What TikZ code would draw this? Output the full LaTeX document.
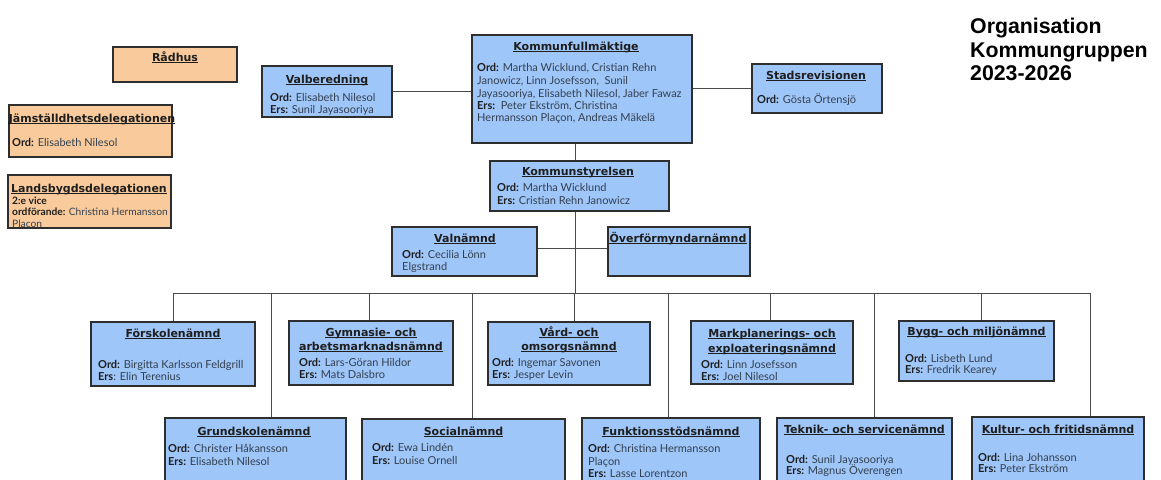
\documentclass[tikz,border=0pt]{standalone}
\usepackage{fontspec}
\usetikzlibrary{backgrounds}
\setmainfont{Lato}
\newfontfamily\hdfont{DejaVu Sans}
\newfontfamily\ttlfont{Liberation Sans}
\definecolor{boxblue}{HTML}{9FC6F8}
\definecolor{boxorange}{HTML}{F9CB9C}
\definecolor{edgecol}{HTML}{2E2E2E}
\definecolor{wirecol}{HTML}{4A4A4A}
\definecolor{bodytxt}{HTML}{334050}
\definecolor{hdtxt}{HTML}{1E1E1E}
\tikzset{
  org/.style={draw=edgecol, line width=1.1pt, inner sep=0pt, outer sep=0pt},
  hd/.style={font=\hdfont\bfseries\fontsize{11}{12}\selectfont, text=hdtxt, inner sep=0pt, anchor=base},
  tx/.style={font=\fontsize{11}{13}\selectfont, text=bodytxt, inner sep=0pt, anchor=base west},
  txs/.style={tx, font=\fontsize{10.2}{12}\selectfont},
  ttl/.style={font=\ttlfont\bfseries\fontsize{21.3}{23}\selectfont, text=black, inner sep=0pt, anchor=base west},
  wire/.style={draw=wirecol, line width=0.9pt},
  ulin/.style={draw=hdtxt, line width=0.85pt},
}
\newcommand\orgbox[6]{\node[org, fill=#6, minimum width={(#4-#2)*1pt}, minimum height={(#5-#3)*1pt}] (#1) at ({(#2+#4)/2},{(#3+#5)/2}) {};}
\newcommand\ohd[4]{\node[hd] (#1) at (#2,#3) {#4};
  \draw[ulin] ([yshift=-1.9pt]#1.base west) -- ([yshift=-1.9pt]#1.base east);}
\newcommand\otx[4]{\node[tx] (#1) at (#2,#3) {#4};}
\newcommand\lbl[1]{\textbf{\color{hdtxt}#1}}
\begin{document}
\begin{tikzpicture}[x=1pt,y=-1pt]
\path[clip] (0,0) rectangle (1161,479);

% ---------- connector coordinates
\coordinate (spx) at (575,293);
\coordinate (vo) at (575,248);
\coordinate (b1) at (173,293);
\coordinate (b2) at (271,293);
\coordinate (b3) at (369,293);
\coordinate (b4) at (472,293);
\coordinate (b5) at (574,293);
\coordinate (b6) at (668,293);
\coordinate (b7) at (770,293);
\coordinate (b8) at (874,293);
\coordinate (b9) at (981,293);
\coordinate (b10) at (1090,293);

% ---------- boxes
\orgbox{radhus}{113}{47}{237}{82}{boxorange}
\orgbox{jams}{9}{105}{172}{157}{boxorange}
\orgbox{lands}{8}{175}{171}{228}{boxorange}
\orgbox{valb}{262}{66}{392}{117}{boxblue}
\orgbox{kf}{472}{35}{692}{143}{boxblue}
\orgbox{stad}{752}{64}{882}{113}{boxblue}
\orgbox{ks}{490}{161}{669}{211}{boxblue}
\orgbox{valn}{392}{227}{537}{276}{boxblue}
\orgbox{over}{608}{227}{750}{276}{boxblue}
\orgbox{forsk}{91}{322}{255}{386}{boxblue}
\orgbox{gymn}{289}{321}{453}{385}{boxblue}
\orgbox{vard}{488}{322}{650}{385}{boxblue}
\orgbox{mark}{691}{321}{853}{384}{boxblue}
\orgbox{bygg}{899}{321}{1054}{381}{boxblue}
\orgbox{grund}{165}{418}{346}{495}{boxblue}
\orgbox{soc}{362}{419}{565}{495}{boxblue}
\orgbox{funk}{582}{418}{760}{495}{boxblue}
\orgbox{tekn}{777}{418}{952}{495}{boxblue}
\orgbox{kult}{972}{417}{1144}{495}{boxblue}

% ---------- connectors (behind boxes)
\begin{scope}[on background layer]
\draw[wire] (valb.east) -- (kf.west |- valb.east);
\draw[wire] (kf.east |- stad.west) -- (stad.west);
\draw[wire] (spx |- kf.south) -- (spx);
\draw[wire] (valn.east |- vo) -- (over.west |- vo);
\draw[wire] (b1) -- (b10);
\draw[wire] (b1) -- (b1 |- forsk.north);
\draw[wire] (b2) -- (b2 |- grund.north);
\draw[wire] (b3) -- (b3 |- gymn.north);
\draw[wire] (b4) -- (b4 |- soc.north);
\draw[wire] (b5) -- (b5 |- vard.north);
\draw[wire] (b6) -- (b6 |- funk.north);
\draw[wire] (b7) -- (b7 |- mark.north);
\draw[wire] (b8) -- (b8 |- tekn.north);
\draw[wire] (b9) -- (b9 |- bygg.north);
\draw[wire] (b10) -- (b10 |- kult.north);
\end{scope}

% ---------- texts
\ohd{hradhus}{175}{61}{Rådhus}

\ohd{hjams}{92}{122}{Jämställdhetsdelegationen}
\otx{tjams1}{12}{146.5}{\lbl{Ord:} Elisabeth Nilesol}

\ohd{hlands}{89}{192}{Landsbygdsdelegationen}
\begin{scope}
\clip ([xshift=0.6pt,yshift=-0.6pt]lands.north west) rectangle ([xshift=-0.6pt,yshift=0.6pt]lands.south east);
\node[txs] (tlands1) at (12,204.5) {\lbl{2:e vice}};
\node[txs] (tlands2) at (12,215.5) {\lbl{ordförande:} Christina Hermansson};
\node[txs] (tlands3) at (12,227.5) {Plaçon};
\end{scope}

\ohd{hvalb}{327}{83}{Valberedning}
\otx{tvalb1}{270}{101.5}{\lbl{Ord:} Elisabeth Nilesol}
\otx{tvalb2}{270}{113.5}{\lbl{Ers:} Sunil Jayasooriya}

\ohd{hkf}{576}{50}{Kommunfullmäktige}
\otx{tkf1}{477}{71}{\lbl{Ord:} Martha Wicklund, Cristian Rehn}
\otx{tkf2}{477}{84}{Janowicz, Linn Josefsson,\ \ Sunil}
\otx{tkf3}{477}{97}{Jayasooriya, Elisabeth Nilesol, Jaber Fawaz}
\otx{tkf4}{477}{109.5}{\lbl{Ers:}\ \ Peter Ekström, Christina}
\otx{tkf5}{477}{121}{Hermansson Plaçon, Andreas Mäkelä}

\ohd{hstad}{816}{79}{Stadsrevisionen}
\otx{tstad1}{757}{103.5}{\lbl{Ord:} Gösta Örtensjö}

\ohd{hks}{578}{175}{Kommunstyrelsen}
\otx{tks1}{497}{191.5}{\lbl{Ord:} Martha Wicklund}
\otx{tks2}{497}{204}{\lbl{Ers:} Cristian Rehn Janowicz}

\ohd{hvaln}{465}{242}{Valnämnd}
\otx{tvaln1}{402}{258.5}{\lbl{Ord:} Cecilia Lönn}
\otx{tvaln2}{402}{270.5}{Elgstrand}

\ohd{hover}{678}{242}{Överförmyndarnämnd}

\ohd{hforsk}{173}{337}{Förskolenämnd}
\otx{tforsk1}{98}{368.5}{\lbl{Ord:} Birgitta Karlsson Feldgrill}
\otx{tforsk2}{98}{380.5}{\lbl{Ers}: Elin Terenius}

\ohd{hgymn1}{371}{336}{Gymnasie- och}
\ohd{hgymn2}{371}{350}{arbetsmarknadsnämnd}
\otx{tgymn1}{299}{366.5}{\lbl{Ord:} Lars-Göran Hildor}
\otx{tgymn2}{299}{378.5}{\lbl{Ers:} Mats Dalsbro}

\ohd{hvard1}{569}{336}{Vård- och}
\ohd{hvard2}{569}{350}{omsorgsnämnd}
\otx{tvard1}{492}{366.5}{\lbl{Ord:} Ingemar Savonen}
\otx{tvard2}{492}{378.5}{\lbl{Ers:} Jesper Levin}

\ohd{hmark1}{772}{337}{Markplanerings- och}
\ohd{hmark2}{772}{352}{exploateringsnämnd}
\otx{tmark1}{701}{368.5}{\lbl{Ord:} Linn Josefsson}
\otx{tmark2}{701}{380.5}{\lbl{Ers:} Joel Nilesol}

\ohd{hbygg}{976.5}{335}{Bygg- och miljönämnd}
\otx{tbygg1}{905}{362.5}{\lbl{Ord:} Lisbeth Lund}
\otx{tbygg2}{905}{373.5}{\lbl{Ers:} Fredrik Kearey}

\ohd{hgrund}{254}{435}{Grundskolenämnd}
\otx{tgrund1}{168}{452.5}{\lbl{Ord:} Christer Håkansson}
\otx{tgrund2}{168}{465.5}{\lbl{Ers:} Elisabeth Nilesol}

\ohd{hsoc}{463.5}{435}{Socialnämnd}
\otx{tsoc1}{372}{451.5}{\lbl{Ord:} Ewa Lindén}
\otx{tsoc2}{372}{464.5}{\lbl{Ers:} Louise Ornell}

\ohd{hfunk}{671}{435}{Funktionsstödsnämnd}
\otx{tfunk1}{588}{452.5}{\lbl{Ord:} Christina Hermansson}
\otx{tfunk2}{588}{465.5}{Plaçon}
\otx{tfunk3}{588}{477.5}{\lbl{Ers:} Lasse Lorentzon}

\ohd{htekn}{864.5}{433}{Teknik- och servicenämnd}
\otx{ttekn1}{786}{463.5}{\lbl{Ord:} Sunil Jayasooriya}
\otx{ttekn2}{786}{474.5}{\lbl{Ers:} Magnus Överengen}

\ohd{hkult}{1058}{433}{Kultur- och fritidsnämnd}
\otx{tkult1}{978}{461.5}{\lbl{Ord:} Lina Johansson}
\otx{tkult2}{978}{472.5}{\lbl{Ers:} Peter Ekström}

% ---------- title
\node[ttl] (ttl1) at (970,33) {Organisation};
\node[ttl] (ttl2) at (970,57) {Kommungruppen};
\node[ttl] (ttl3) at (970,80) {2023-2026};
\end{tikzpicture}
\end{document}
